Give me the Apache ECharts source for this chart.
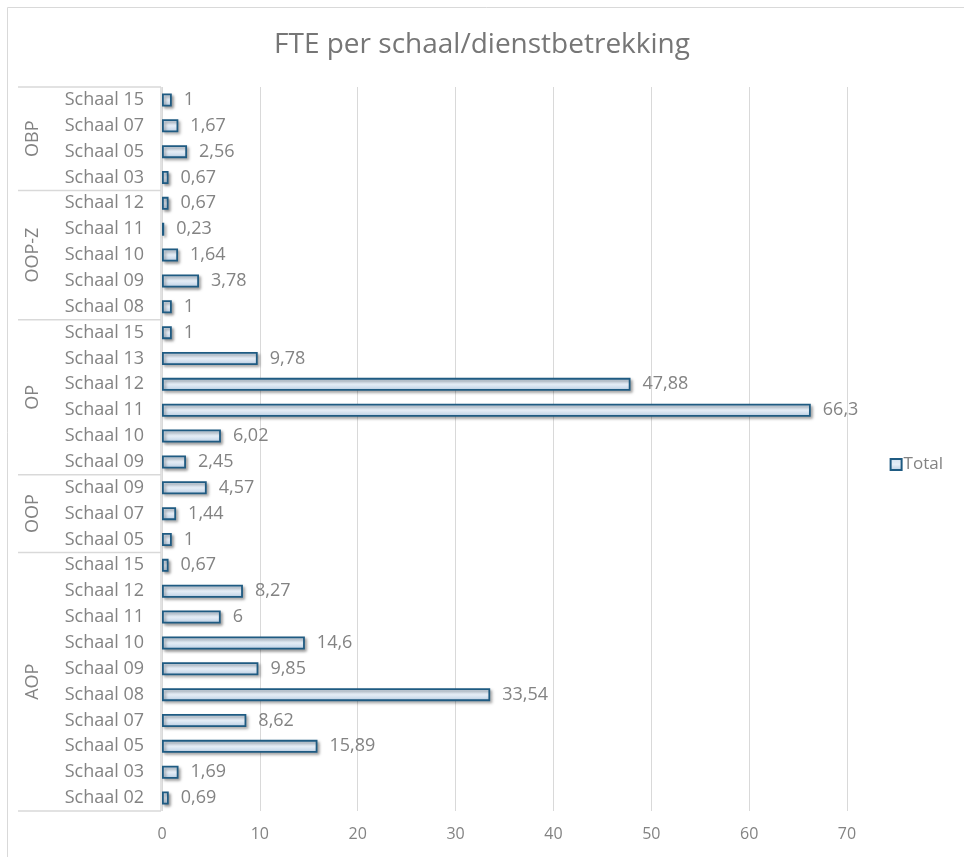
<!DOCTYPE html>
<html>
<head>
<meta charset="utf-8">
<script src="https://cdn.jsdelivr.net/npm/echarts@6/dist/echarts.min.js"></script>
<style>html,body{margin:0;padding:0;background:#fff}#c{width:964px;height:857px}</style>
</head>
<body>
<div id="c"></div>
<script>
const groupNames = ['OBP', 'OOP-Z', 'OP', 'OOP', 'AOP'];
const groupCounts = [4, 5, 6, 3, 10];
const categories = [
  'Schaal 15','Schaal 07','Schaal 05','Schaal 03',
  'Schaal 12','Schaal 11','Schaal 10','Schaal 09','Schaal 08',
  'Schaal 15','Schaal 13','Schaal 12','Schaal 11','Schaal 10','Schaal 09',
  'Schaal 09','Schaal 07','Schaal 05',
  'Schaal 15','Schaal 12','Schaal 11','Schaal 10','Schaal 09','Schaal 08','Schaal 07','Schaal 05','Schaal 03','Schaal 02'
];
const values = [
  1, 1.67, 2.56, 0.67,
  0.67, 0.23, 1.64, 3.78, 1,
  1, 9.78, 47.88, 66.3, 6.02, 2.45,
  4.57, 1.44, 1,
  0.67, 8.27, 6, 14.6, 9.85, 33.54, 8.62, 15.89, 1.69, 0.69
];
const xTicks = [0, 10, 20, 30, 40, 50, 60, 70];

const FONT = '"Open Sans", "Noto Sans", sans-serif';
const GRAY = '#838383';

// unique category keys: group|index|label
const catKeys = [];
let gi = 0, cnt = 0;
categories.forEach((c, i) => {
  while (cnt >= groupCounts[gi]) { gi++; cnt = 0; }
  catKeys.push(groupNames[gi] + '|' + i + '|' + c);
  cnt++;
});

const chart = echarts.init(document.getElementById('c'), null, {renderer: 'canvas'});
const fmt = v => String(v).replace('.', ',');

chart.setOption({
  animation: false,
  title: {
    text: 'FTE per schaal/dienstbetrekking',
    left: 'center', top: 26,
    textStyle: {fontFamily: FONT, fontSize: 28, fontWeight: 'normal', color: '#767676'}
  },
  legend: {
    orient: 'vertical', right: 16, top: 451,
    icon: 'rect', itemWidth: 11, itemHeight: 11, itemGap: 4,
    textStyle: {fontFamily: FONT, fontSize: 17, color: GRAY, padding: [0, 0, 0, -3]},
    data: ['Total']
  },
  grid: {left: 162, right: 117, top: 87, bottom: 46, containLabel: false},
  xAxis: {
    type: 'value', min: xTicks[0], max: xTicks[xTicks.length - 1], interval: 10,
    axisLine: {show: false}, axisTick: {show: false},
    splitLine: {lineStyle: {color: '#d9d9d9', width: 1}},
    axisLabel: {fontFamily: FONT, fontSize: 16, color: GRAY, margin: 15}
  },
  yAxis: {
    type: 'category', inverse: true, data: catKeys,
    axisLine: {show: false}, axisTick: {show: false},
    axisLabel: {
      fontFamily: FONT, fontSize: 18, color: GRAY, margin: 18, interval: 0,
      formatter: v => v.split('|')[2]
    }
  },
  series: [{
    name: 'Total', type: 'bar', data: values, barWidth: 13,
    itemStyle: {
      color: new echarts.graphic.LinearGradient(0, 0, 0, 1, [
        {offset: 0, color: '#d2e1f0'},
        {offset: 0.5, color: '#e6eef7'},
        {offset: 1, color: '#b7cce2'}
      ]),
      borderColor: '#1f5b82', borderWidth: 1.8,
      shadowColor: 'rgba(0,0,0,0.35)', shadowBlur: 3, shadowOffsetX: 2, shadowOffsetY: 2
    },
    label: {
      show: true, position: 'right', distance: 12,
      fontFamily: FONT, fontSize: 18, color: GRAY,
      formatter: p => fmt(p.value)
    }
  }]
});

function drawGroups() {
  const centers = catKeys.map(k => chart.convertToPixel({yAxisIndex: 0}, k));
  const step = centers[1] - centers[0];
  const top = centers[0] - step / 2;
  const bottom = centers[centers.length - 1] + step / 2;
  const xL = 18, xR = 161;
  const els = [];
  els.push({type: 'rect', shape: {x: 7.5, y: 7.5, width: 1000, height: 1000},
    style: {fill: 'none', stroke: '#d9d9d9', lineWidth: 1}, silent: true, z: -1});
  els.push({type: 'line', shape: {x1: xR, y1: top, x2: xR, y2: bottom},
    style: {stroke: '#d9d9d9', lineWidth: 1.5}});
  let start = 0;
  const bounds = [top];
  groupCounts.forEach((n, g) => {
    const y0 = centers[start] - step / 2, y1 = centers[start + n - 1] + step / 2;
    bounds.push(y1);
    els.push({type: 'text', x: 33, y: (y0 + y1) / 2, rotation: Math.PI / 2,
      style: {text: groupNames[g], fontFamily: FONT, fontSize: 18, fill: GRAY,
        align: 'center', verticalAlign: 'middle'}});
    start += n;
  });
  bounds.forEach(y => els.push({type: 'line', shape: {x1: xL, y1: y, x2: xR, y2: y},
    style: {stroke: '#d9d9d9', lineWidth: 1.5}}));
  chart.setOption({graphic: els});
}
drawGroups();
</script>
</body>
</html>
